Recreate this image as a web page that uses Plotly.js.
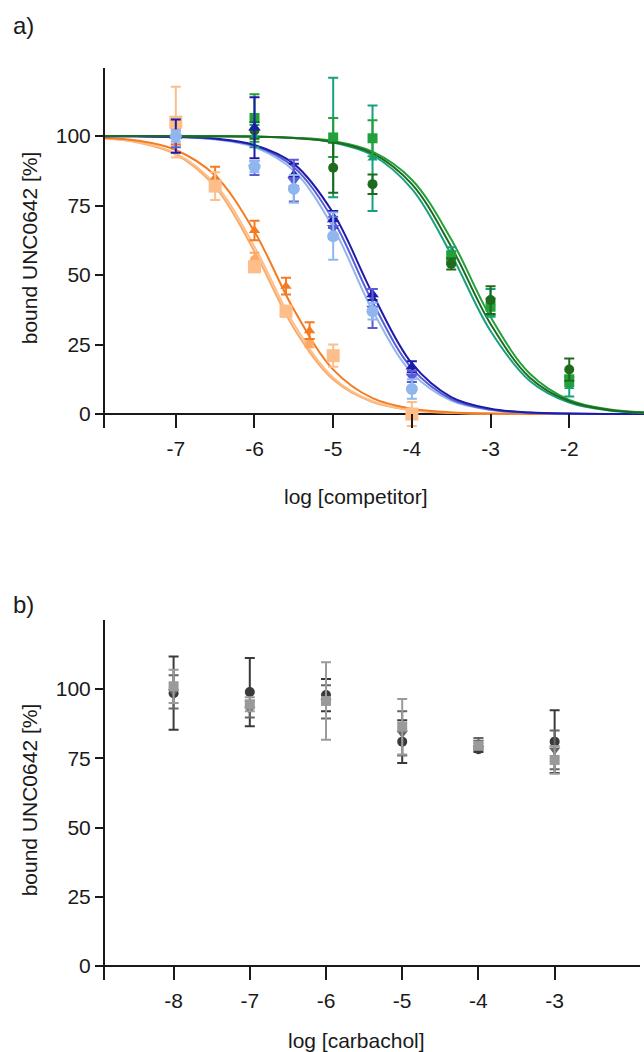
<!DOCTYPE html>
<html><head><meta charset="utf-8">
<script src="https://cdn.plot.ly/plotly-3.0.1.min.js"></script>
<style>html,body{margin:0;padding:0;background:#fff}#chart{width:644px;height:1052px}</style>
</head><body><div id="chart"></div><script>
// ---------- Panel a: fitted curves ----------
const xFitA = [-7.9, -7.5, -7, -6.5, -6, -5.5, -5, -4.5, -4, -3.5, -3, -2.5, -2, -1.5, -1];
const fitOrangeDark  = [99.3, 98.4, 95.0, 85.8, 65.6, 37.6, 16.0, 5.7, 1.9, 0.6, 0.19, 0.06, 0.02, 0.01, 0];
const fitOrangeLight = [99.2, 98.0, 93.8, 82.7, 60.2, 32.4, 13.1, 4.6, 1.5, 0.48, 0.15, 0.05, 0.02, 0, 0];
const fitOrangePale  = [99.1, 97.8, 93.4, 81.7, 58.5, 30.9, 12.4, 4.3, 1.4, 0.45, 0.14, 0.04, 0.01, 0, 0];
const fitNavy        = [99.97, 99.9, 99.7, 99.1, 96.8, 90.0, 72.3, 43.3, 18.2, 6.1, 1.9, 0.55, 0.16, 0.05, 0.01];
const fitSlate       = [99.96, 99.9, 99.7, 98.9, 96.5, 88.8, 69.8, 40.3, 16.4, 5.4, 1.6, 0.49, 0.14, 0.04, 0.01];
const fitSky         = [99.95, 99.9, 99.6, 98.8, 96.0, 87.5, 67.1, 37.3, 14.8, 4.8, 1.5, 0.43, 0.12, 0.04, 0.01];
const fitGreen       = [100, 99.99, 99.98, 99.94, 99.8, 99.4, 98.2, 94.4, 84.3, 62.9, 34.9, 14.5, 5.1, 1.7, 0.53];
const fitDarkGreen   = [100, 99.99, 99.98, 99.93, 99.8, 99.3, 97.9, 93.8, 82.7, 60.2, 32.4, 13.1, 4.6, 1.5, 0.48];
const fitTeal        = [100, 99.99, 99.97, 99.92, 99.8, 99.3, 97.7, 93.1, 81.0, 57.4, 29.9, 11.9, 4.1, 1.3, 0.43];

// ---------- Panel a: measured points ----------
const xOrangeDark = [-7, -6.5, -6, -5.6, -5.3];
const yOrangeDark = [100, 85, 66, 46, 30];
const eOrangeDark = [3, 4, 3.5, 3, 3];
const xOrangeLight = [-7, -6.5, -6, -5.6, -5, -4];
const yOrangeLight = [105, 82, 53, 37, 21, 0];
const eOrangeLight = [12.7, 5, 2, 2, 4, 4.3];
const xOrangePale = [-7, -6, -5.3];
const yOrangePale = [100, 55.5, 25.5];
const eOrangePale = [3, 2.5, 1.5];

const xBlue = [-7, -6, -5.5, -5, -4.5, -4];
const yNavy = [100, 103, 86, 70, 43, 17];
const eNavy = [6, 11, 4, 3, 2, 2];
const ySlate = [99, 88.5, 84, 67, 38, 13.5];
const eSlate = [3, 2.5, 7.5, 4, 7, 2];
const ySky = [100, 89, 81, 64, 37, 9];
const eSky = [2, 2, 5, 8.5, 3, 3.5];

const xGreenPts = [-6, -5, -4.5, -3.5, -3, -2];
const yGreen = [106.5, 99.5, 99.2, 56.6, 38.6, 12];
const eGreen = [8.5, 7, 6.5, 2, 3, 2];
const yDarkGreen = [102, 88.6, 82.7, 54, 41, 16];
const eDarkGreen = [3, 9, 3.5, 2, 5, 4];
const yTeal = [100, 99.5, 92, 57, 40, 9.8];
const eTeal = [4, 21.5, 19, 3, 5, 3.5];

const xTicksA = [-7, -6, -5, -4, -3, -2];
const xTickTextA = ['-7', '-6', '-5', '-4', '-3', '-2'];

// ---------- Panel b ----------
const xCarb = [-8, -7, -6, -5, -4, -3];
const yCircleB = [98.5, 98.9, 97.8, 81, 78.3, 81];
const eCircleB = [13.2, 12.3, 5.8, 7.7, 1, 11.3];
const ySquareB = [101, 94.5, 95.7, 86.4, 79.5, 74.4];
const eSquareB = [6, 2.5, 14, 10, 1, 5];
const yTriB = [99, 92.7, 95.4, 84, 80.8, 78];
const eTriB = [6, 3, 6, 8, 1.5, 7];
const xTicksB = [-8, -7, -6, -5, -4, -3];
const xTickTextB = ['-8', '-7', '-6', '-5', '-4', '-3'];

const yTicks = [0, 25, 50, 75, 100];
const yTickText = ['0', '25', '50', '75', '100'];

// ---------- styling ----------
const C = {
  orangeDark: '#F47B20', orangeLight: '#FDBE8A', orangePale: '#FBA965',
  navy: '#1C1CA8', slate: '#5B5BD6', sky: '#8FB7EE',
  green: '#22A03A', darkGreen: '#1E6B1E', teal: '#17A080',
  circB: '#3A3A3A', sqB: '#9A9A9A', triB: '#666666'
};

function curve(x, y, color, xa, ya) {
  return {x: x, y: y, type: 'scatter', mode: 'lines', xaxis: xa, yaxis: ya,
    line: {color: color, width: 2, shape: 'spline', smoothing: 1}, hoverinfo: 'skip'};
}
function pts(x, y, e, color, symbol, size, xa, ya) {
  return {x: x, y: y, type: 'scatter', mode: 'markers', xaxis: xa, yaxis: ya,
    marker: {color: color, symbol: symbol, size: size},
    error_y: {type: 'data', array: e, visible: true, color: color, thickness: 2, width: 5}};
}

const traces = [
  curve(xFitA, fitOrangePale, C.orangePale, 'x', 'y'),
  curve(xFitA, fitOrangeLight, C.orangeLight, 'x', 'y'),
  curve(xFitA, fitOrangeDark, C.orangeDark, 'x', 'y'),
  curve(xFitA, fitSky, C.sky, 'x', 'y'),
  curve(xFitA, fitSlate, C.slate, 'x', 'y'),
  curve(xFitA, fitNavy, C.navy, 'x', 'y'),
  curve(xFitA, fitTeal, C.teal, 'x', 'y'),
  curve(xFitA, fitGreen, C.green, 'x', 'y'),
  curve(xFitA, fitDarkGreen, C.darkGreen, 'x', 'y'),
  pts(xGreenPts, yTeal, eTeal, C.teal, 'triangle-up', 9, 'x', 'y'),
  pts(xGreenPts, yGreen, eGreen, C.green, 'square', 10, 'x', 'y'),
  pts(xGreenPts, yDarkGreen, eDarkGreen, C.darkGreen, 'circle', 10, 'x', 'y'),
  pts(xOrangePale, yOrangePale, eOrangePale, C.orangePale, 'circle', 9, 'x', 'y'),
  pts(xOrangeDark, yOrangeDark, eOrangeDark, C.orangeDark, 'triangle-up', 10, 'x', 'y'),
  pts(xOrangeLight, yOrangeLight, eOrangeLight, C.orangeLight, 'square', 13, 'x', 'y'),
  pts(xBlue, yNavy, eNavy, C.navy, 'triangle-up', 11, 'x', 'y'),
  pts(xBlue, ySlate, eSlate, C.slate, 'triangle-down', 11, 'x', 'y'),
  pts(xBlue, ySky, eSky, C.sky, 'circle', 12, 'x', 'y'),
  pts(xCarb, yCircleB, eCircleB, C.circB, 'circle', 10, 'x2', 'y2'),
  pts(xCarb, yTriB, eTriB, C.triB, 'triangle-down', 10, 'x2', 'y2'),
  pts(xCarb, ySquareB, eSquareB, C.sqB, 'square', 10, 'x2', 'y2')
];

const FONT = 'Liberation Sans, Arial, sans-serif';
const ink = '#1a1a1a';
const FS = 21;
function xAxis(domain, range, tv, tt, anchor) {
  return {domain: domain, range: range, anchor: anchor, tickmode: 'array', tickvals: tv, ticktext: tt,
    ticks: 'inside', ticklen: 14, tickwidth: 2, tickcolor: ink, showline: false, showgrid: false,
    zeroline: false, automargin: false, ticklabelstandoff: 6,
    tickfont: {family: FONT, size: FS, color: ink}};
}
function yAxis(domain, range, anchor) {
  return {domain: domain, range: range, anchor: anchor, tickmode: 'array', tickvals: yTicks, ticktext: yTickText,
    ticks: 'outside', ticklen: 8, tickwidth: 2, tickcolor: ink, showline: true, linewidth: 2, linecolor: ink,
    showgrid: false, zeroline: true, zerolinecolor: ink, zerolinewidth: 2, automargin: false,
    tickfont: {family: FONT, size: FS, color: ink},
    title: {text: 'bound UNC0642 [%]', font: {family: FONT, size: FS, color: ink}, standoff: 12}};
}
function label(text, x, y, size) {
  return {text: text, xref: 'paper', yref: 'paper', x: x, y: y, xanchor: 'center', yanchor: 'middle',
    showarrow: false, font: {family: FONT, size: size, color: ink}};
}

const layout = {
  width: 644, height: 1052, margin: {l: 0, r: 0, t: 0, b: 0},
  paper_bgcolor: '#fff', plot_bgcolor: '#fff', showlegend: false,
  font: {family: FONT, color: ink},
  xaxis: xAxis([0.16304, 1], [-7.9, -1.05], xTicksA, xTickTextA, 'y'),
  yaxis: yAxis([0.5932, 0.9354], [-5, 124.5], 'x'),
  xaxis2: xAxis([0.16304, 0.99379], [-8.9, -1.88], xTicksB, xTickTextB, 'y2'),
  yaxis2: yAxis([0.0684, 0.4106], [-5.05, 124.9], 'x2'),
  annotations: [
    label('a)', 0.036, 0.976, 24),
    label('b)', 0.036, 0.425, 24),
    label('log [competitor]', 0.5528, 0.5285, FS),
    label('log [carbachol]', 0.5528, 0.0114, FS)
  ]
};

Plotly.newPlot('chart', traces, layout, {staticPlot: true, displayModeBar: false});
</script></body></html>
